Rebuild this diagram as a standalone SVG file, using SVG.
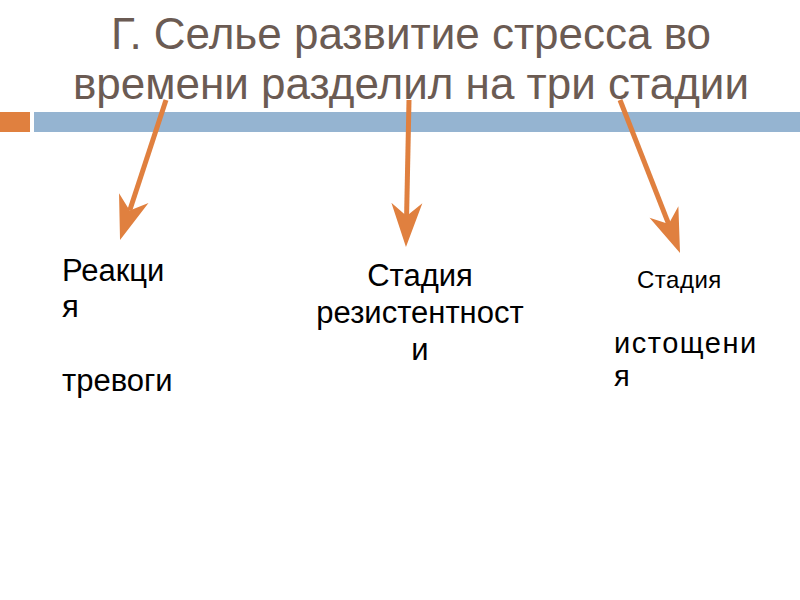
<svg xmlns="http://www.w3.org/2000/svg" width="800" height="600" viewBox="0 0 800 600">
<style>
.title{font-family:"Liberation Sans",Arial,sans-serif;font-size:44px;fill:#6b5b53;text-anchor:middle}
.lbl{font-family:"Liberation Sans",Arial,sans-serif;font-size:31px;fill:#000}
.small{font-family:"Liberation Sans",Arial,sans-serif;font-size:24px;fill:#000;letter-spacing:0.5px}
.mid{font-family:"Liberation Sans",Arial,sans-serif;font-size:29px;fill:#000}
.arrow{stroke:#e0803f;stroke-width:5;fill:none;marker-end:url(#head)}
</style>
<defs>
<marker id="head" markerUnits="userSpaceOnUse" orient="auto" refX="0" refY="0" markerWidth="60" markerHeight="40" overflow="visible">
<path d="M31,0 L-13,-15.5 L0,0 L-13,15.5 Z" fill="#e0803f"/>
</marker>
</defs>
<rect width="800" height="600" fill="#fff"/>
<g id="title">
<text class="title" x="411" y="49">Г. Селье развитие стресса во</text>
<text class="title" x="411" y="99">времени разделил на три стадии</text>
</g>
<g id="bar">
<rect x="0" y="112" width="30" height="20" fill="#e0803f"/>
<rect x="34" y="112" width="766" height="20" fill="#95b4d1"/>
</g>
<g id="connectors">
<line class="arrow" x1="166" y1="100" x2="129.7" y2="210.5"/>
<line class="arrow" x1="409" y1="100" x2="406.6" y2="216"/>
<line class="arrow" x1="620" y1="100" x2="668.7" y2="224.1"/>
</g>
<g id="node-alarm">
<text class="lbl" x="62" y="281">Реакци</text>
<text class="lbl" x="62" y="317">я</text>
<text class="lbl" x="62" y="391">тревоги</text>
</g>
<g id="node-resistance">
<text class="lbl" x="420" y="286" text-anchor="middle">Стадия</text>
<text class="lbl" x="420" y="323" text-anchor="middle">резистентност</text>
<text class="lbl" x="420" y="360" text-anchor="middle">и</text>
</g>
<g id="node-exhaustion">
<text class="small" x="637" y="288">Стадия</text>
<text class="mid" x="614" y="353" letter-spacing="1.5">истощени</text>
<text class="mid" x="614" y="386">я</text>
</g>
</svg>
